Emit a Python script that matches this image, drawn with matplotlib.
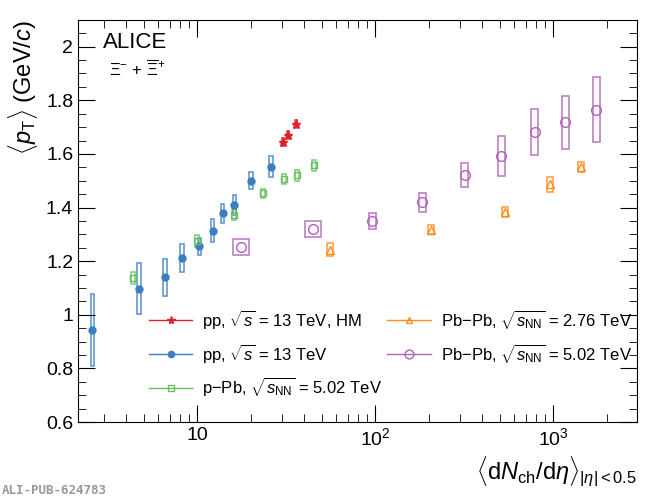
import matplotlib.pyplot as plt
from matplotlib.patches import Rectangle
from matplotlib.ticker import FixedLocator, NullFormatter, LogLocator
import numpy as np

plt.rcParams['font.family'] = ['Liberation Sans', 'DejaVu Sans']
plt.rcParams['mathtext.fontset'] = 'custom'
plt.rcParams['mathtext.rm'] = 'Liberation Sans'
plt.rcParams['mathtext.it'] = 'Liberation Sans:italic'

# data: x, mean pT, systematic half-height
pp_hm_x = [30.4, 32.4, 36.0]
pp_hm_y = [1.643, 1.670, 1.711]
pp_hm_e = [0.015, 0.015, 0.015]

pp_x = [2.58, 4.72, 6.59, 8.24, 10.3, 12.2, 13.9, 16.2, 20.0, 25.9]
pp_y = [0.945, 1.097, 1.141, 1.212, 1.255, 1.314, 1.378, 1.410, 1.500, 1.552]
pp_e = [0.134, 0.095, 0.069, 0.053, 0.031, 0.044, 0.035, 0.037, 0.032, 0.039]

ppb_x = [4.37, 9.96, 16.2, 23.4, 30.8, 36.6, 45.6]
ppb_y = [1.137, 1.276, 1.374, 1.453, 1.506, 1.520, 1.557]
ppb_e = [0.022, 0.022, 0.022, 0.018, 0.02, 0.02, 0.022]

pb276_x = [55.8, 205, 535, 962, 1435]
pb276_y = [1.243, 1.318, 1.384, 1.486, 1.551]
pb276_e = [0.025, 0.018, 0.018, 0.028, 0.018]

pb502_x = [17.7, 45.0, 96.6, 184, 318, 511, 786, 1173, 1750]
pb502_y = [1.254, 1.321, 1.350, 1.419, 1.523, 1.593, 1.682, 1.718, 1.765]
pb502_e = [0.03, 0.03, 0.029, 0.036, 0.045, 0.075, 0.087, 0.099, 0.12]

red = '#e0202a'
blue = '#3a7fc0'
green = '#66c060'
orange = '#ff8c1a'
purple = '#b060b8'

fig = plt.figure(figsize=(6.5, 4.96), dpi=100)
ax = fig.add_axes([0.12, 0.149, 0.86, 0.811])
ax.set_xscale('log')
ax.set_xlim(2.14, 2960)
ax.set_ylim(0.6, 2.1)

decade = 178.0  # px per decade, used only for box widths

def boxes(xs, ys, es, halfw_px, color):
    f = 10 ** (halfw_px / decade)
    for x, y, e in zip(xs, ys, es):
        ax.add_patch(Rectangle((x / f, y - e), x * f - x / f, 2 * e, fill=False,
                               edgecolor=color, lw=1.2, alpha=0.8))

boxes(pp_x, pp_y, pp_e, 1.8, blue)
boxes(ppb_x, ppb_y, ppb_e, 2.0, green)
boxes(pb276_x, pb276_y, pb276_e, 3.0, orange)
boxes(pb502_x[:2], pb502_y[:2], pb502_e[:2], 8.0, purple)
boxes(pb502_x[2:], pb502_y[2:], pb502_e[2:], 3.5, purple)
boxes(pp_hm_x, pp_hm_y, pp_hm_e, 1.2, red)

h1, = ax.plot(pp_hm_x, pp_hm_y, ls='none', marker='*', color=red, ms=6.5)
h2, = ax.plot(pp_x, pp_y, ls='none', marker='o', color=blue, ms=5)
h3, = ax.plot(ppb_x, ppb_y, ls='none', marker='s', mfc='none', color=green, ms=4.5)
h4, = ax.plot(pb276_x, pb276_y, ls='none', marker='^', mfc='none', color=orange, ms=5.5)
h5, = ax.plot(pb502_x, pb502_y, ls='none', marker='o', mfc='none', color=purple, ms=7)

# legend handles with lines like ROOT
lh = []
for h in [h1, h2, h3, h4, h5]:
    l, = ax.plot([], [], color=h.get_color(), marker=h.get_marker(), mfc=h.get_mfc(),
                 ms=h.get_markersize() * 0.9, lw=1)
    lh.append(l)
labels = [r'pp, $\sqrt{s}$ = 13 TeV, HM', r'pp, $\sqrt{s}$ = 13 TeV',
          r'p$-$Pb, $\sqrt{s_{\rm NN}}$ = 5.02 TeV',
          r'Pb$-$Pb, $\sqrt{s_{\rm NN}}$ = 2.76 TeV',
          r'Pb$-$Pb, $\sqrt{s_{\rm NN}}$ = 5.02 TeV']
ax.legend(lh, labels, ncol=2, loc='lower left', bbox_to_anchor=(0.1, 0.02),
          frameon=False, fontsize=12, handlelength=2.6, columnspacing=0.3,
          labelspacing=0.65, handletextpad=0.6)

ax.set_yticks(np.arange(0.6, 2.01, 0.2))
ax.set_yticklabels(['0.6', '0.8', '1', '1.2', '1.4', '1.6', '1.8', '2'])
ax.yaxis.set_minor_locator(FixedLocator(np.arange(0.6, 2.1, 0.05)))
ax.set_xticks([10, 100, 1000])
ax.set_xticklabels(['10', r'10$^2$', r'10$^3$'])
ax.xaxis.set_minor_locator(LogLocator(subs=np.arange(2, 10)))
ax.xaxis.set_minor_formatter(NullFormatter())
ax.tick_params(which='both', direction='in', top=True, right=True, labelsize=14)
ax.tick_params(which='major', length=12)
ax.tick_params(which='minor', length=6)

ax.set_ylabel(r'$\langle p_{\rm T}\rangle$ (GeV/$c$)', fontsize=17, loc='top')
ax.set_xlabel(r'$\langle$d$N_{\rm ch}$/d$\eta\rangle_{|\eta|<0.5}$', fontsize=17, loc='right')

ax.text(0.045, 0.93, 'ALICE', transform=ax.transAxes, fontsize=16)
ax.text(0.055, 0.86, r'$\Xi^{-}$ + $\overline{\Xi}^{+}$', transform=ax.transAxes, fontsize=12)
fig.text(0.003, 0.005, 'ALI-PUB-624783', fontsize=9, color='#999999',
         family='DejaVu Sans Mono', weight='bold')

fig.savefig('out.png', dpi=100)
